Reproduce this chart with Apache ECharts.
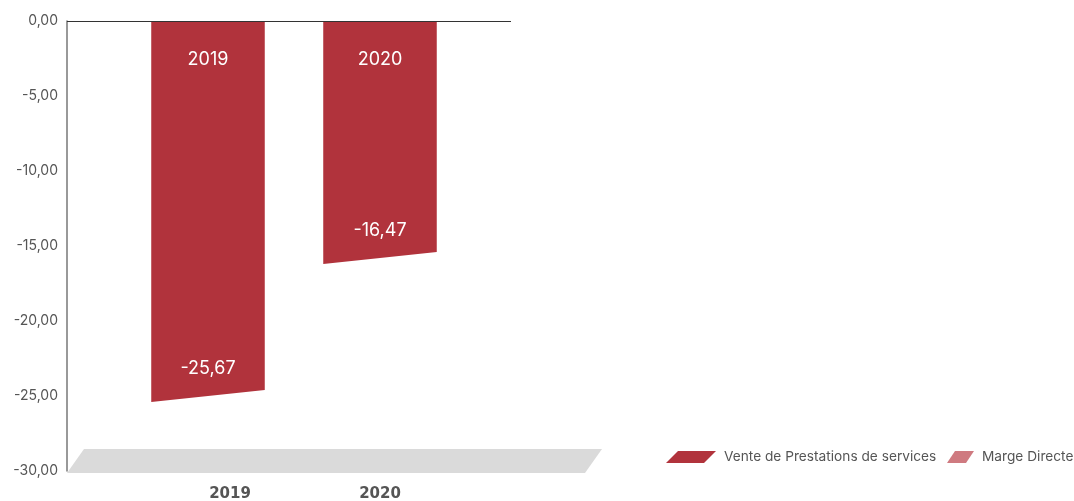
<!DOCTYPE html>
<html>
<head>
<meta charset="utf-8">
<script src="https://cdn.jsdelivr.net/npm/echarts@6/dist/echarts.min.js"></script>
<style>
  html, body { margin: 0; padding: 0; background: #fff; }
  #main { width: 1074px; height: 501px; }
</style>
</head>
<body>
<div id="main"></div>
<script>
// données
var years = ['2019', '2020'];
var vente = [-25.67, -16.47];
var marge = [null, null];

var venteColor = '#b1333c';
var margeColor = '#cf7a80';

var chart = echarts.init(document.getElementById('main'));

function fmt(v) {
    return v.toFixed(2).replace('.', ',');
}

// barre avec le bas en biais
function renderBar(params, api) {
    var idx = api.value(0);
    var v = api.value(1);
    if (v == null || isNaN(v)) return;
    var top = api.coord([idx, 0]);
    var bot = api.coord([idx, v]);
    var w = api.size([1, 0])[0] * 0.66;
    var x0 = top[0] - w / 2, x1 = top[0] + w / 2;
    var yl = bot[1] - 4, yr = bot[1] - 16;
    return {
        type: 'group',
        children: [
            {
                type: 'polygon',
                shape: { points: [[x0, top[1]], [x1, top[1]], [x1, yr], [x0, yl]] },
                style: { fill: venteColor }
            },
            {
                type: 'text',
                style: {
                    text: years[idx], x: top[0], y: top[1] + 39,
                    align: 'center', verticalAlign: 'middle',
                    fill: '#fff', fontSize: 18, fontFamily: 'Inter'
                }
            },
            {
                type: 'text',
                style: {
                    text: fmt(v), x: top[0], y: (yl + yr) / 2 - 27,
                    align: 'center', verticalAlign: 'middle',
                    fill: '#fff', fontSize: 18, fontFamily: 'Inter'
                }
            }
        ]
    };
}

var option = {
    animation: false,
    grid: { left: 122, right: 608, top: 21, bottom: 30, outerBoundsMode: 'none' },
    graphic: [
        {
            type: 'polygon', z: 0,
            shape: { points: [[67, 473], [84, 449], [602, 449], [585, 473]] },
            style: { fill: '#dadada' }
        },
        {
            type: 'line', z: 10,
            shape: { x1: 67, y1: 21.5, x2: 511, y2: 21.5 },
            style: { stroke: '#333', lineWidth: 1 }
        }
    ],
    legend: [
        {
            data: ['Vente de Prestations de services'],
            left: 666, top: 450, padding: 0,
            itemWidth: 50, itemHeight: 12,
            icon: 'path://M12,0L50,0L38,12L0,12Z',
            textStyle: { color: '#555', fontSize: 13.7, fontFamily: 'Inter', padding: [0, 0, 0, 3] }
        },
        {
            data: ['Marge Directe'],
            left: 947, top: 450, padding: 0,
            itemWidth: 27, itemHeight: 12,
            icon: 'path://M8,0L27,0L19,12L0,12Z',
            textStyle: { color: '#555', fontSize: 13.7, fontFamily: 'Inter', padding: [0, 0, 0, 3] }
        }
    ],
    xAxis: {
        type: 'category',
        data: [
            { value: years[0], textStyle: { padding: [0, 0, 0, 44] } },
            { value: years[1] }
        ],
        axisLine: { show: false },
        axisTick: { show: false },
        axisLabel: {
            margin: 16, color: '#555', fontSize: 15, fontWeight: 'bold',
            fontFamily: 'DejaVu Sans'
        }
    },
    yAxis: {
        type: 'value',
        min: -30, max: 0, interval: 5,
        offset: 55,
        axisLine: { show: true, lineStyle: { color: '#777', width: 1.5 } },
        axisTick: { show: false },
        splitLine: { show: false },
        axisLabel: {
            color: '#555', fontSize: 14, fontFamily: 'Inter', margin: 9,
            formatter: function (v) { return fmt(v); }
        }
    },
    series: [
        {
            name: 'Vente de Prestations de services',
            type: 'custom',
            itemStyle: { color: venteColor },
            renderItem: renderBar,
            encode: { x: 0, y: 1 },
            data: years.map(function (y, i) { return [i, vente[i]]; })
        },
        {
            name: 'Marge Directe',
            type: 'bar',
            itemStyle: { color: margeColor },
            data: marge
        }
    ]
};

chart.setOption(option);
</script>
</body>
</html>
